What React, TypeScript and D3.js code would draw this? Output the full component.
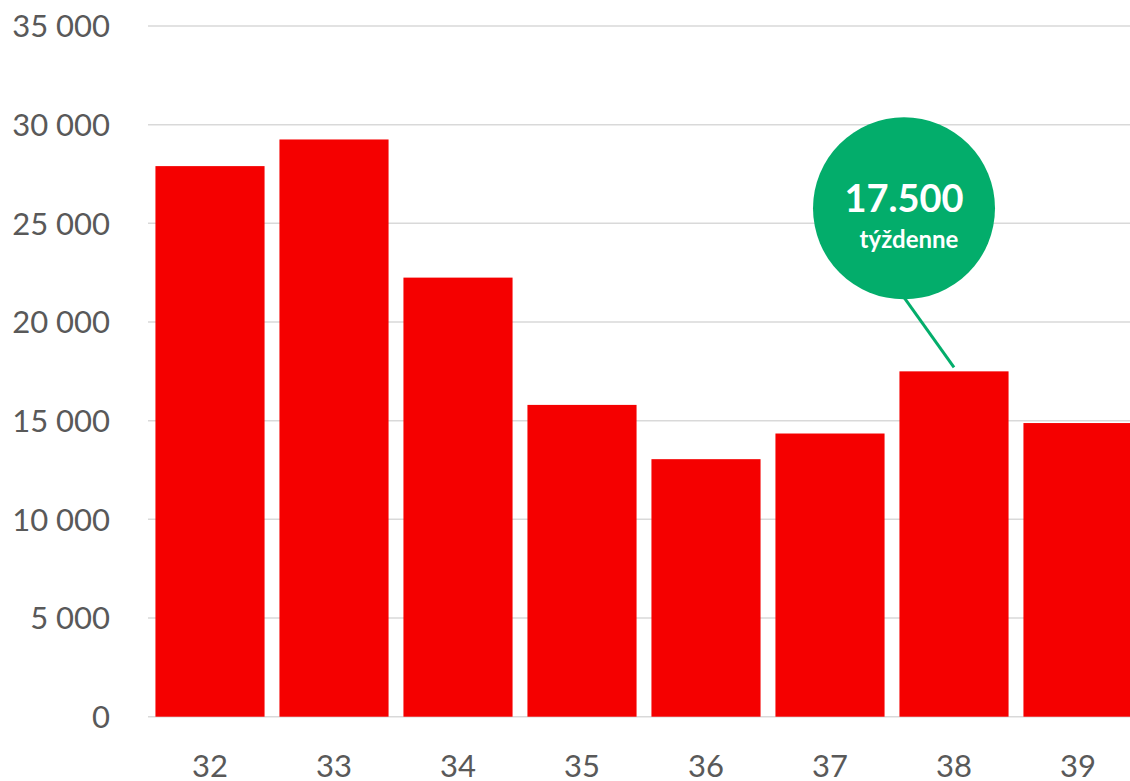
import React, { useEffect, useRef } from 'react'
import * as d3 from 'd3'

const weeks = ['32', '33', '34', '35', '36', '37', '38', '39']
const counts = [27900, 29250, 22250, 15800, 13050, 14350, 17500, 14880]
const yTicks = [0, 5000, 10000, 15000, 20000, 25000, 30000, 35000]
const calloutWeek = '38'
const calloutValue = '17.500'
const calloutLabel = 'týždenne'

const W = 1130
const H = 781

const App = () => {
    const ref = useRef<SVGSVGElement>(null)

    useEffect(() => {
        const svg = d3.select(ref.current)
        svg.selectAll('*').remove()

        const x = d3.scaleBand()
            .domain(weeks)
            .range([148, 1140])
            .paddingInner(0.12)
            .paddingOuter(0.06)
        const y = d3.scaleLinear()
            .domain([0, 35000])
            .range([716.7, 26])

        const font = 'Lato, "Open Sans", sans-serif'

        // gridlines
        svg.append('g')
            .selectAll('line')
            .data(yTicks)
            .enter().append('line')
            .attr('x1', 148)
            .attr('x2', W)
            .attr('y1', d => y(d))
            .attr('y2', d => y(d))
            .attr('stroke', '#d9d9d9')
            .attr('stroke-width', 1.5)

        // y labels, space as thousands separator
        const fmt = (v: number) => d3.format(',')(v).replace(/,/g, ' ')
        svg.append('g')
            .selectAll('text')
            .data(yTicks)
            .enter().append('text')
            .attr('x', 110)
            .attr('y', d => y(d))
            .attr('dy', '0.36em')
            .attr('text-anchor', 'end')
            .style('font-family', font)
            .style('font-size', '31px')
            .style('fill', '#595959')
            .text(d => fmt(d))

        // bars
        svg.append('g')
            .selectAll('rect')
            .data(weeks)
            .enter().append('rect')
            .attr('x', d => x(d) as number)
            .attr('width', x.bandwidth())
            .attr('y', (d, i) => y(counts[i]))
            .attr('height', (d, i) => y(0) - y(counts[i]))
            .attr('fill', '#f50000')

        // x labels
        svg.append('g')
            .selectAll('text')
            .data(weeks)
            .enter().append('text')
            .attr('x', d => (x(d) as number) + x.bandwidth() / 2)
            .attr('y', 777)
            .attr('text-anchor', 'middle')
            .style('font-family', font)
            .style('font-size', '31px')
            .style('fill', '#595959')
            .text(d => d)

        // callout for week 38
        const ci = weeks.indexOf(calloutWeek)
        const bx = (x(calloutWeek) as number) + x.bandwidth() / 2
        const by = y(counts[ci])
        const cx = bx - 50
        const cy = by - 163
        const r = 91
        const green = '#03ad6b'

        svg.append('line')
            .attr('x1', cx)
            .attr('y1', cy + r - 2)
            .attr('x2', bx)
            .attr('y2', by - 4)
            .attr('stroke', green)
            .attr('stroke-width', 3)
        svg.append('circle')
            .attr('cx', cx)
            .attr('cy', cy)
            .attr('r', r)
            .attr('fill', green)
        svg.append('text')
            .attr('x', cx)
            .attr('y', cy + 4)
            .attr('text-anchor', 'middle')
            .style('font-family', font)
            .style('font-weight', 'bold')
            .style('font-size', '38px')
            .style('fill', '#ffffff')
            .text(calloutValue)
        svg.append('text')
            .attr('x', cx + 5)
            .attr('y', cy + 40)
            .attr('text-anchor', 'middle')
            .style('font-family', font)
            .style('font-weight', 'bold')
            .style('font-size', '24px')
            .style('fill', '#ffffff')
            .text(calloutLabel)
    }, [])

    return (
        <svg
            ref={ref}
            width={W}
            height={H}
            style={{ position: 'absolute', left: 0, top: 0, display: 'block', background: '#fff' }}
        />
    )
}

export default App
